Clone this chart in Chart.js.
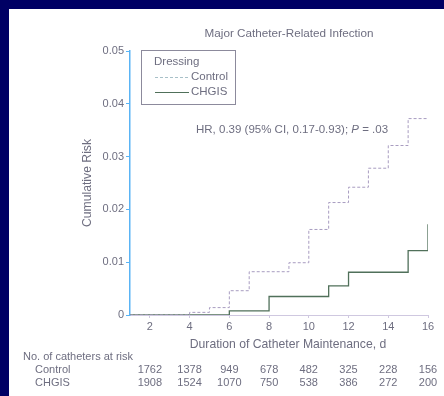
<!DOCTYPE html>
<html>
<head>
<meta charset="utf-8">
<script src="https://cdn.jsdelivr.net/npm/chart.js@4"></script>
<style>
  html, body { margin: 0; padding: 0; }
  body { width: 444px; height: 396px; background: #000064; position: relative; overflow: hidden; }
  #paper { position: absolute; left: 9px; top: 9px; right: 0; bottom: 0; background: #fff; }
  #c { position: absolute; left: 0; top: 0; }
</style>
</head>
<body>
<div id="paper"></div>
<canvas id="c" width="444" height="396"></canvas>
<script>
const days = [2, 4, 6, 8, 10, 12, 14, 16];
const controlAtRisk = [1762, 1378, 949, 678, 482, 325, 228, 156];
const chgisAtRisk = [1908, 1524, 1070, 750, 538, 386, 272, 200];

// step points: value holds from this day onward
const controlDays = [1, 4, 5, 6, 7, 9, 10, 11, 12, 13, 14, 15, 16];
const controlRisk = [0, 0.0005, 0.0014, 0.0046, 0.0082, 0.0099, 0.0162, 0.0213, 0.0242, 0.0278, 0.0321, 0.0372, 0.0372];
const chgisDays = [1, 6, 8, 11, 12, 15, 16];
const chgisRisk = [0, 0.0008, 0.0035, 0.0055, 0.0081, 0.0122, 0.0172];

const textColor = "#6e6e80";
const font = "Liberation Sans, Arial, sans-serif";

const toPoints = (xs, ys) => xs.map((x, i) => ({ x, y: ys[i] }));

const extras = {
  id: "extras",
  afterDraw(chart) {
    const ctx = chart.ctx;
    const x = chart.scales.x;
    ctx.save();
    ctx.fillStyle = textColor;
    ctx.textBaseline = "middle";

    ctx.font = "11.7px " + font;
    ctx.textAlign = "center";
    ctx.fillText("Major Catheter-Related Infection", 289, 34);

    ctx.font = "12.2px " + font;
    ctx.fillText("Duration of Catheter Maintenance, d", 288, 345);

    ctx.save();
    ctx.translate(88, 183);
    ctx.rotate(-Math.PI / 2);
    ctx.fillText("Cumulative Risk", 0, 0);
    ctx.restore();

    // legend box
    ctx.strokeStyle = "#8c8a9c";
    ctx.lineWidth = 1;
    ctx.strokeRect(141.5, 50.5, 94, 54);
    ctx.textAlign = "left";
    ctx.font = "11.5px " + font;
    ctx.fillText("Dressing", 154, 62);
    ctx.fillText("Control", 191, 77);
    ctx.fillText("CHGIS", 191, 92);
    ctx.strokeStyle = "#a8c0c8";
    ctx.setLineDash([3, 2]);
    ctx.beginPath(); ctx.moveTo(155, 77.5); ctx.lineTo(189, 77.5); ctx.stroke();
    ctx.setLineDash([]);
    ctx.strokeStyle = "#50705a";
    ctx.lineWidth = 1.2;
    ctx.beginPath(); ctx.moveTo(155, 92.5); ctx.lineTo(189, 92.5); ctx.stroke();

    // hazard ratio note
    ctx.font = "11.5px " + font;
    let hx = 196;
    const hr1 = "HR, 0.39 (95% CI, 0.17-0.93); ";
    ctx.fillText(hr1, hx, 130);
    hx += ctx.measureText(hr1).width;
    ctx.font = "italic 11.5px " + font;
    ctx.fillText("P", hx, 130);
    hx += ctx.measureText("P").width;
    ctx.font = "11.5px " + font;
    ctx.fillText(" = .03", hx, 130);

    // numbers at risk
    ctx.font = "11px " + font;
    ctx.fillText("No. of catheters at risk", 23, 357);
    ctx.fillText("Control", 35, 370);
    ctx.fillText("CHGIS", 35, 383);
    ctx.textAlign = "center";
    days.forEach((d, i) => {
      const px = x.getPixelForValue(d);
      ctx.fillText(String(controlAtRisk[i]), px, 370);
      ctx.fillText(String(chgisAtRisk[i]), px, 383);
    });
    ctx.restore();
  }
};

new Chart(document.getElementById("c"), {
  type: "line",
  data: {
    datasets: [
      {
        label: "Control",
        data: toPoints(controlDays, controlRisk),
        borderColor: "#a89cc0",
        borderWidth: 1,
        borderDash: [3, 2],
        stepped: "before",
        pointRadius: 0,
        fill: false
      },
      {
        label: "CHGIS",
        data: toPoints(chgisDays, chgisRisk),
        borderColor: "#50705a",
        borderWidth: 1.3,
        stepped: "before",
        pointRadius: 0,
        fill: false
      }
    ]
  },
  options: {
    responsive: false,
    animation: false,
    layout: { padding: { left: 90, right: 16, top: 51, bottom: 61 } },
    plugins: { legend: { display: false }, tooltip: { enabled: false } },
    scales: {
      x: {
        type: "linear",
        min: 1,
        max: 16,
        afterBuildTicks: s => { s.ticks = days.map(v => ({ value: v })); },
        afterFit: s => { s.height = 20; },
        ticks: { color: textColor, font: { family: font, size: 11 }, padding: 2 },
        grid: { drawOnChartArea: false, tickLength: 3, color: "#cfc8e0" },
        border: { color: "#cfc8e0" }
      },
      y: {
        min: 0,
        max: 0.05,
        afterFit: s => { s.width = 40; },
        ticks: {
          stepSize: 0.01,
          color: textColor,
          font: { family: font, size: 11 },
          padding: 2,
          callback: v => (v === 0 ? "0" : v.toFixed(2))
        },
        grid: { drawOnChartArea: false, tickLength: 4, color: "#5ab4f5" },
        border: { color: "#5ab4f5", width: 1.5 }
      }
    }
  },
  plugins: [extras]
});
</script>
</body>
</html>
